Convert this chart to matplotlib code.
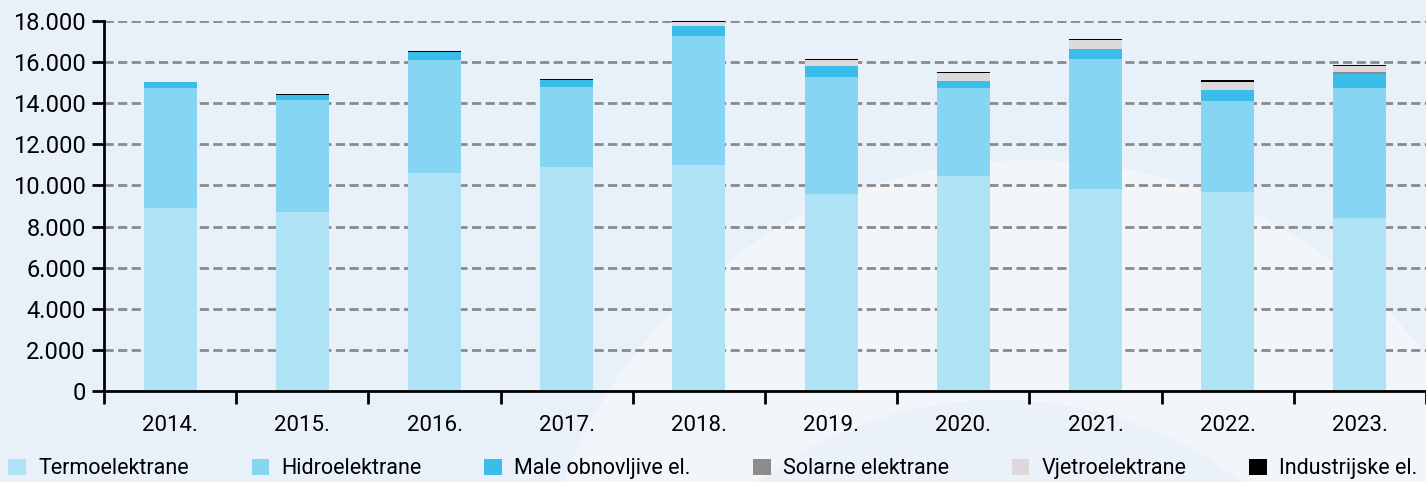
import matplotlib
matplotlib.use("Agg")
import matplotlib.pyplot as plt
import numpy as np
from matplotlib.patches import Ellipse
from matplotlib.ticker import FuncFormatter, MultipleLocator

plt.rcParams['font.family'] = ['Roboto', 'DejaVu Sans']

# podaci (GWh) po godinama
godine = ['2014.', '2015.', '2016.', '2017.', '2018.', '2019.', '2020.', '2021.', '2022.', '2023.']
termo = [8900, 8720, 10620, 10910, 11010, 9600, 10460, 9830, 9680, 8430]
hidro = [5840, 5450, 5480, 3880, 6280, 5680, 4270, 6300, 4430, 6310]
male = [290, 230, 400, 325, 470, 550, 355, 500, 535, 700]
solarne = [0, 0, 0, 0, 0, 0, 0, 0, 10, 70]
vjetro = [0, 0, 0, 0, 180, 255, 370, 430, 400, 313]
industrijske = [0, 70, 60, 60, 50, 55, 55, 55, 55, 55]

serije = ['Termoelektrane', 'Hidroelektrane', 'Male obnovljive el.',
          'Solarne elektrane', 'Vjetroelektrane', 'Industrijske el.']
boje = ['#b0e2f6', '#86d5f3', '#3bbde9', '#8c8c8c', '#ddd9da', '#000000']

bg = '#e8f0f9'
fig = plt.figure(figsize=(14.26, 4.82), dpi=100, facecolor=bg)

# dekorativna pozadina
fig.patches.append(Ellipse((1030 / 1426, 1 - 660 / 482), 1000 / 1426, 1000 / 482,
                           transform=fig.transFigure, facecolor='#f2f6fb',
                           edgecolor='none', zorder=-2))
fig.patches.append(Ellipse((1000 / 1426, 1 - 800 / 482), 800 / 1426, 800 / 482,
                           transform=fig.transFigure, facecolor='#eaf1f9',
                           edgecolor='none', zorder=-1))

ax = fig.add_axes([104 / 1426, 1 - 391 / 482, 1 - 104 / 1426, (391 - 21) / 482])
ax.set_facecolor('none')
ax.set_zorder(1)

x = np.arange(len(godine))
dno = np.zeros(len(godine))
for naziv, vrijednosti, boja in zip(serije, [termo, hidro, male, solarne, vjetro, industrijske], boje):
    ax.bar(x, vrijednosti, 0.4, bottom=dno, color=boja, label=naziv, zorder=3)
    dno += np.array(vrijednosti)

ax.set_xlim(-0.5, len(godine) - 0.5)
ax.set_ylim(0, 18000)
ax.yaxis.set_major_locator(MultipleLocator(2000))
ax.yaxis.set_major_formatter(FuncFormatter(lambda v, p: f"{int(v):,}".replace(',', '.')))

ax.set_xticks(np.arange(len(godine) + 1) - 0.5)
ax.set_xticklabels([])
ax.set_xticks(x, minor=True)
ax.set_xticklabels(godine, minor=True)
ax.tick_params(axis='x', which='minor', length=0, pad=17, labelsize=16)
ax.tick_params(axis='x', which='major', length=9, width=2, direction='out')
ax.tick_params(axis='y', length=9, width=2, labelsize=17, pad=4)

for v in range(2000, 18001, 2000):
    ax.axhline(v, color='#8a8a8a', lw=2, ls=(0, (3.3, 1.6)), zorder=1)

for s in ['top', 'right']:
    ax.spines[s].set_visible(False)
for s in ['left', 'bottom']:
    ax.spines[s].set_linewidth(2)
    ax.spines[s].set_zorder(4)

fig.legend(loc='lower center', bbox_to_anchor=(0.5, -0.035), ncol=6, frameon=False,
           fontsize=15.5, handlelength=0.8, handleheight=0.8, handletextpad=0.6,
           columnspacing=2.9)

fig.savefig('out.png', dpi=100, facecolor=bg)
